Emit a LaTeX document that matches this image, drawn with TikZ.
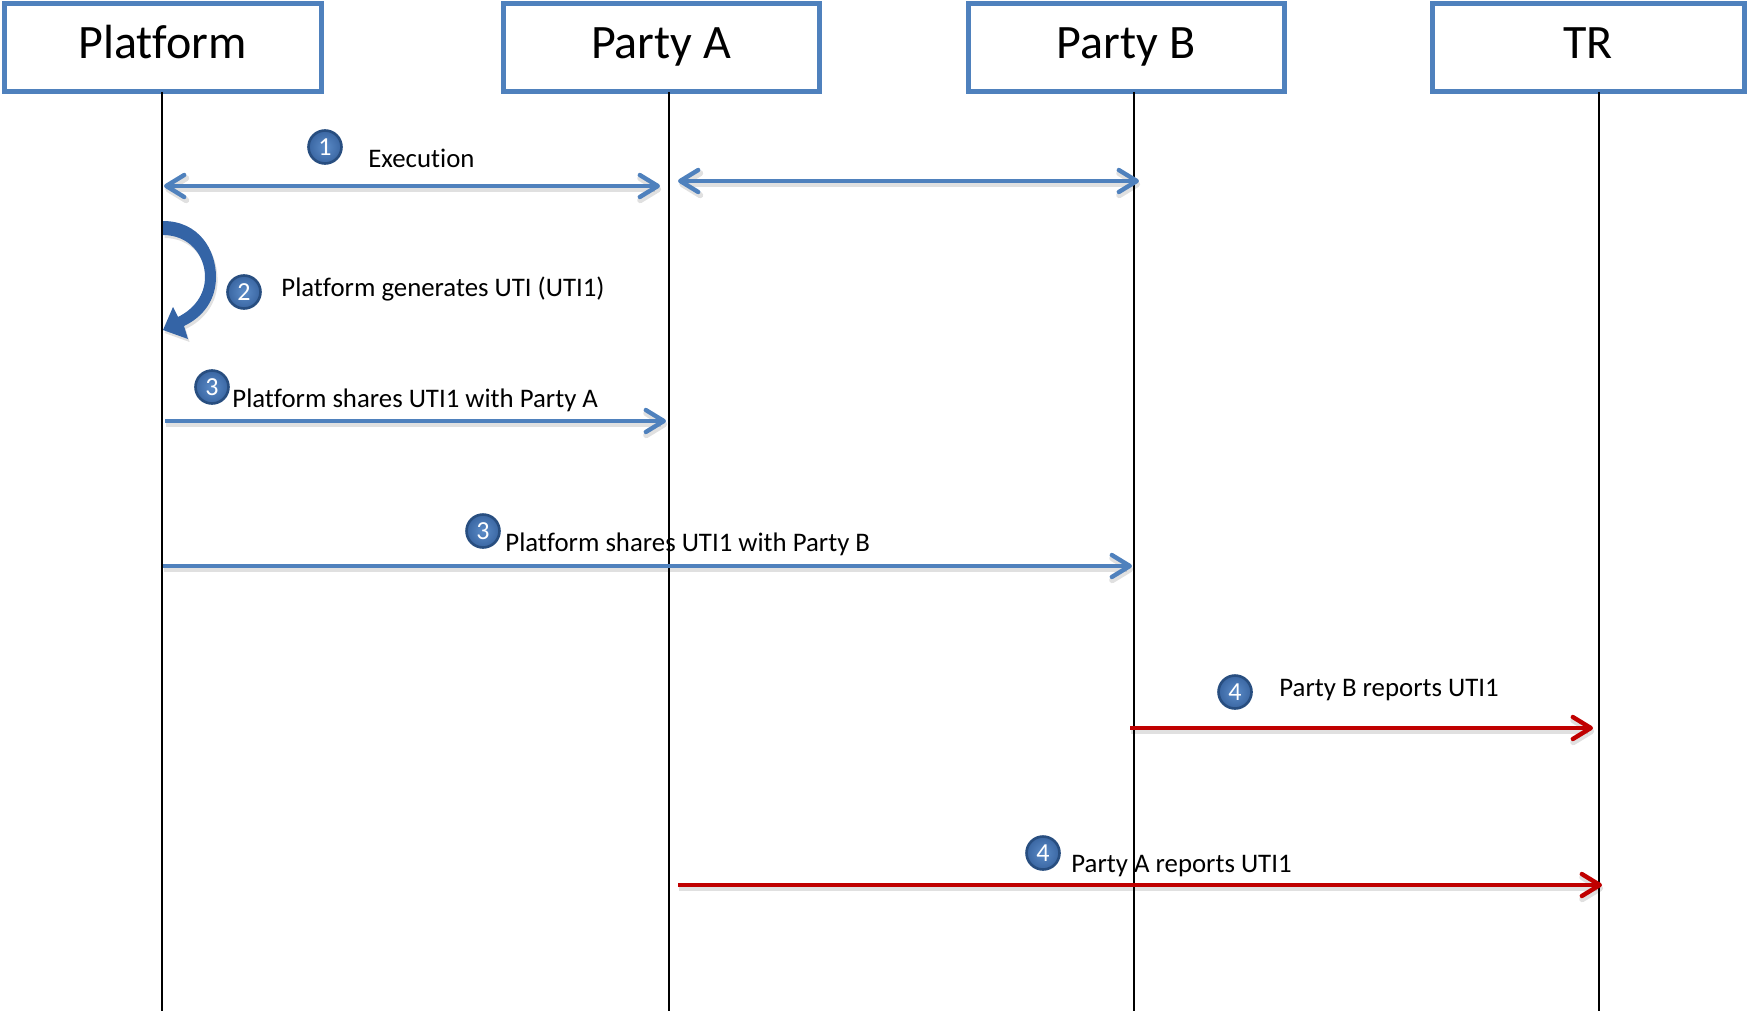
\documentclass[tikz,border=0pt]{standalone}
\usepackage{fontspec}
\setmainfont{Carlito}[Ligatures=NoCommon]
\usetikzlibrary{arrows.meta}

\definecolor{lineblue}{RGB}{79,129,189}
\definecolor{arrowred}{RGB}{192,0,0}
\definecolor{ringblue}{RGB}{40,78,128}
\definecolor{ballin}{RGB}{92,140,200}
\definecolor{ballout}{RGB}{58,102,162}
\definecolor{curveblue}{RGB}{52,100,166}

\tikzset{
  party/.style={draw=lineblue, line width=2.5pt, fill=white, rectangle,
    inner sep=0pt, text height=16pt, text depth=5.5pt,
    font=\fontsize{24}{27}\selectfont},
  lifeline/.style={draw=black, line width=0.8pt},
  msgshadow/.style={preaction={draw=black, opacity=0.12, line width=3pt,
    transform canvas={yshift=-1.6pt, xshift=0.6pt}}},
  bluemsg/.style={draw=lineblue, line width=2.2pt, msgshadow,
    -{Straight Barb[length=9pt, width=11pt, round]}},
  bluebi/.style={draw=lineblue, line width=2.2pt, msgshadow,
    {Straight Barb[length=9pt, width=11pt, round]}-{Straight Barb[length=9pt, width=11pt, round]}},
  redmsg/.style={draw=arrowred, line width=2.2pt, msgshadow,
    -{Straight Barb[length=9pt, width=11pt, round]}},
  stepnum/.style={circle, draw=ringblue, line width=1.3pt, inner color=ballin,
    outer color=ballout, minimum size=16.5pt, inner sep=0pt, text=white,
    font=\fontsize{13}{14}\selectfont},
  msglabel/.style={anchor=base west, inner sep=0pt,
    font=\fontsize{13.4}{15}\selectfont},
}

\begin{document}
\begin{tikzpicture}[x=0.5pt, y=-0.5pt]
\useasboundingbox (0,0) rectangle (1748,1011);

% participant headers
\node[party, minimum width=158.5pt, minimum height=44pt] (platform) at (162.5,48) {Platform};
\node[party, minimum width=158pt, minimum height=44pt] (partyA) at (661,48) {Party A};
\node[party, minimum width=158pt, minimum height=44pt] (partyB) at (1126,48) {Party B};
\node[party, minimum width=156pt, minimum height=44pt] (tr) at (1588,48) {TR};

% lifelines
\coordinate (plTop) at (162,92);  \coordinate (plBot) at (162,1011);
\coordinate (paTop) at (669,92);  \coordinate (paBot) at (669,1011);
\coordinate (pbTop) at (1134,92); \coordinate (pbBot) at (1134,1011);
\coordinate (trTop) at (1599,92); \coordinate (trBot) at (1599,1011);
\draw[lifeline] (plTop) -- (plBot);
\draw[lifeline] (paTop) -- (paBot);
\draw[lifeline] (pbTop) -- (pbBot);
\draw[lifeline] (trTop) -- (trBot);

% step 1: execution
\coordinate (e1a) at (164,186);  \coordinate (e1b) at (660,186);
\coordinate (e2a) at (678,181);  \coordinate (e2b) at (1139,181);
\draw[bluebi] (e1a) -- (e1b);
\draw[bluebi] (e2a) -- (e2b);
\node[stepnum] (n1) at (325,147) {1};
\node[msglabel] (t1) at (368,167) {Execution};

% step 2: self call on the platform lifeline
\fill[curveblue, preaction={fill=black, opacity=0.12, transform canvas={yshift=-1.5pt, xshift=0.8pt}}]
  (163,221) .. controls (199,221) and (216,250) .. (216,277)
  .. controls (216,300) and (203,317) .. (184,326)
  -- (188,339) -- (163,330) -- (173,307) -- (178,317)
  .. controls (194,309) and (205,295) .. (205,277)
  .. controls (205,255) and (189,235) .. (163,235) -- cycle;
\node[stepnum] (n2) at (244,292) {2};
\node[msglabel] (t2) at (281,296) {Platform generates UTI (UTI1)};

% step 3: UTI shared with both parties
\coordinate (s3a) at (165,421); \coordinate (s3b) at (666,421);
\draw[bluemsg] (s3a) -- (s3b);
\node[stepnum] (n3a) at (212,387) {3};
\node[msglabel] (t3a) at (232,407) {Platform shares UTI1 with Party A};

\coordinate (s4a) at (163,566); \coordinate (s4b) at (1132,566);
\draw[bluemsg] (s4a) -- (s4b);
\node[stepnum] (n3b) at (483,531) {3};
\node[msglabel] (t3b) at (505,551) {Platform shares UTI1 with Party B};

% step 4: reporting to the trade repository
\coordinate (r1a) at (1130,728); \coordinate (r1b) at (1593,728);
\draw[redmsg] (r1a) -- (r1b);
\node[stepnum] (n4a) at (1235,692) {4};
\node[msglabel] (t4a) at (1279,696) {Party B reports UTI1};

\coordinate (r2a) at (678,885); \coordinate (r2b) at (1602,885);
\draw[redmsg] (r2a) -- (r2b);
\node[stepnum] (n4b) at (1043,853) {4};
\node[msglabel] (t4b) at (1071,872) {Party A reports UTI1};
\end{tikzpicture}
\end{document}
